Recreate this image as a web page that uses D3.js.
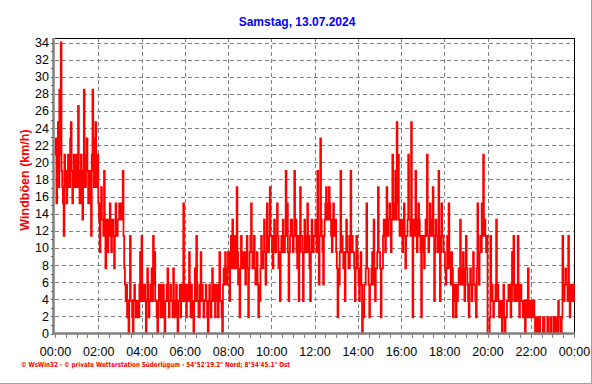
<!DOCTYPE html>
<html><head><meta charset="utf-8">
<script src="https://cdn.jsdelivr.net/npm/d3@7/dist/d3.min.js"></script>
<style>html,body{margin:0;padding:0;background:#fff;}svg{display:block;}</style>
</head><body>
<svg id="c" width="592" height="384"></svg>
<script>
// ---- data (wind gusts, km/h, one value every 2 minutes, per hour) ----
const title = "Samstag, 13.07.2024";
const yLabel = "Windböen (km/h)";
const footer = "\u00a9 WsWin32  -  \u00a9 private Wetterstation Süderlügum  -  54°52'19.2\" Nord; 8°54'45.1\" Ost";
const xTickLabels = ["00:00","02:00","04:00","06:00","08:00","10:00","12:00","14:00","16:00","18:00","20:00","22:00","00:00"];
const yTicks = [0,2,4,6,8,10,12,14,16,18,20,22,24,26,28,30,32,34];
const stepMinutes = 2;
const h00 = [20.9,22.8,15.2,19.0,24.7,17.1,28.5,20.9,34,19.0,17.1,15.2,11.4,20.9,19.0,17.1,15.2,19.0,20.9,17.1,17.1,22.8,24.7,19.0,15.2,17.1,20.9,19.0,17.1,20.9];
const h01 = [19.0,17.1,26.6,19.0,15.2,17.1,20.9,15.2,13.3,19.0,28.5,17.1,17.1,20.9,22.8,19.0,15.2,17.1,19.0,15.2,11.4,20.9,28.5,19.0,17.1,22.8,24.7,17.1,19.0,20.9];
const h02 = [15.2,13.3,9.5,15.2,17.1,13.3,13.3,11.4,19.0,11.4,7.6,13.3,13.3,9.5,11.4,13.3,15.2,11.4,9.5,13.3,13.3,11.4,7.6,11.4,15.2,13.3,11.4,13.3,13.3,15.2];
const h03 = [13.3,15.2,15.2,13.3,19.0,11.4,7.6,5.7,3.8,5.7,1.9,3.8,0,3.8,11.4,3.8,3.8,1.9,0,3.8,5.7,3.8,1.9,3.8,3.8,1.9,1.9,5.7,9.5,3.8];
const h04 = [11.4,5.7,3.8,5.7,5.7,3.8,0,3.8,7.6,5.7,1.9,3.8,3.8,5.7,7.6,3.8,11.4,5.7,9.5,3.8,3.8,1.9,0,3.8,5.7,3.8,1.9,5.7,3.8,1.9];
const h05 = [5.7,3.8,0,3.8,3.8,5.7,7.6,3.8,1.9,3.8,5.7,3.8,3.8,1.9,7.6,3.8,1.9,3.8,5.7,1.9,0,3.8,3.8,5.7,1.9,3.8,5.7,3.8,15.2,3.8];
const h06 = [3.8,5.7,1.9,3.8,5.7,3.8,9.5,3.8,1.9,5.7,3.8,1.9,0,3.8,7.6,3.8,11.4,5.7,3.8,1.9,1.9,5.7,9.5,3.8,5.7,3.8,1.9,3.8,3.8,5.7];
const h07 = [3.8,1.9,0,3.8,5.7,3.8,1.9,3.8,7.6,3.8,3.8,5.7,1.9,3.8,5.7,3.8,1.9,5.7,9.5,3.8,3.8,1.9,0,5.7,7.6,5.7,9.5,7.6,5.7,7.6];
const h08 = [9.5,7.6,3.8,9.5,11.4,7.6,13.3,9.5,7.6,11.4,9.5,7.6,17.1,9.5,5.7,7.6,1.9,7.6,11.4,7.6,7.6,9.5,9.5,7.6,5.7,9.5,11.4,7.6,1.9,7.6];
const h09 = [9.5,11.4,15.2,9.5,7.6,9.5,11.4,7.6,5.7,7.6,9.5,5.7,1.9,5.7,3.8,7.6,11.4,9.5,7.6,9.5,13.3,9.5,5.7,9.5,15.2,11.4,9.5,11.4,17.1,11.4];
const h10 = [11.4,9.5,7.6,11.4,13.3,9.5,9.5,11.4,15.2,11.4,7.6,9.5,3.8,9.5,11.4,9.5,13.3,11.4,9.5,11.4,19.0,11.4,15.2,9.5,3.8,9.5,11.4,13.3,13.3,11.4];
const h11 = [9.5,11.4,19.0,11.4,13.3,9.5,7.6,11.4,3.8,9.5,17.1,11.4,11.4,9.5,3.8,9.5,13.3,11.4,9.5,11.4,15.2,9.5,11.4,7.6,3.8,9.5,13.3,11.4,9.5,11.4];
const h12 = [11.4,13.3,13.3,9.5,19.0,11.4,5.7,11.4,22.8,13.3,11.4,9.5,5.7,11.4,13.3,15.2,17.1,13.3,15.2,13.3,17.1,15.2,13.3,11.4,9.5,13.3,15.2,11.4,11.4,13.3];
const h13 = [9.5,7.6,1.9,7.6,5.7,9.5,19.0,9.5,11.4,9.5,7.6,9.5,3.8,9.5,13.3,11.4,9.5,7.6,7.6,11.4,19.0,9.5,11.4,9.5,9.5,7.6,3.8,7.6,11.4,9.5];
const h14 = [7.6,5.7,3.8,7.6,9.5,5.7,0,3.8,1.9,5.7,5.7,7.6,15.2,7.6,7.6,5.7,1.9,5.7,5.7,7.6,9.5,5.7,13.3,7.6,3.8,7.6,7.6,9.5,17.1,9.5];
const h15 = [9.5,7.6,1.9,7.6,7.6,11.4,13.3,11.4,9.5,13.3,17.1,11.4,11.4,13.3,15.2,13.3,9.5,13.3,20.9,13.3,13.3,15.2,19.0,13.3,24.7,15.2,20.9,13.3,11.4,13.3];
const h16 = [13.3,11.4,9.5,13.3,15.2,11.4,7.6,11.4,11.4,13.3,20.9,13.3,13.3,11.4,24.7,13.3,1.9,11.4,13.3,11.4,19.0,13.3,9.5,11.4,15.2,13.3,11.4,9.5,1.9,11.4];
const h17 = [11.4,9.5,7.6,11.4,13.3,11.4,20.9,11.4,9.5,11.4,15.2,11.4,11.4,13.3,17.1,11.4,3.8,9.5,13.3,11.4,11.4,9.5,19.0,11.4,3.8,9.5,15.2,11.4,11.4,9.5];
const h18 = [9.5,7.6,5.7,7.6,11.4,7.6,15.2,9.5,7.6,5.7,9.5,7.6,1.9,5.7,5.7,3.8,1.9,5.7,3.8,5.7,7.6,5.7,13.3,7.6,5.7,7.6,9.5,5.7,3.8,7.6];
const h19 = [11.4,7.6,5.7,3.8,1.9,5.7,7.6,5.7,3.8,5.7,9.5,5.7,5.7,3.8,1.9,7.6,15.2,9.5,5.7,9.5,11.4,9.5,15.2,11.4,20.9,11.4,13.3,11.4,9.5,11.4];
const h20 = [0,0,0,1.9,11.4,3.8,5.7,3.8,1.9,3.8,3.8,5.7,13.3,3.8,5.7,3.8,1.9,3.8,3.8,1.9,0,3.8,5.7,1.9,0,1.9,1.9,3.8,3.8,5.7];
const h21 = [3.8,5.7,1.9,3.8,9.5,5.7,11.4,3.8,3.8,5.7,5.7,3.8,11.4,5.7,1.9,3.8,5.7,3.8,3.8,1.9,1.9,3.8,0,3.8,3.8,1.9,7.6,3.8,1.9,3.8];
const h22 = [3.8,1.9,1.9,3.8,3.8,1.9,0,1.9,1.9,0,0,1.9,1.9,0,0,0,0,1.9,1.9,0,0,0,0,1.9,1.9,0,0,0,1.9,0];
const h23 = [0,0,1.9,0,0,1.9,1.9,0,3.8,1.9,1.9,0,0,1.9,11.4,5.7,3.8,5.7,7.6,5.7,5.7,3.8,11.4,5.7,1.9,3.8,5.7,3.8,3.8,5.7];
const lastValue = 3.8;

// ---- build ----
const hours = [h00,h01,h02,h03,h04,h05,h06,h07,h08,h09,h10,h11,h12,h13,h14,h15,h16,h17,h18,h19,h20,h21,h22,h23];
const values = hours.flat().concat([lastValue]);
const data = values.map((v,i)=>({t:new Date(Date.UTC(2024,6,13,0,i*stepMinutes)), v}));

const svg = d3.select("#c");
const L = 55, R = 574, T = 38, B = 333.5;
const x = d3.scaleUtc().domain([new Date(Date.UTC(2024,6,13)), new Date(Date.UTC(2024,6,14))]).range([L, R]);
const y = d3.scaleLinear().domain([0,34]).range([B, 42.5]);

// outer shadow border
svg.append("line").attr("x1",591.5).attr("x2",591.5).attr("y1",0).attr("y2",384).attr("stroke","#a0a0a0").attr("stroke-width",1);
svg.append("line").attr("x1",0).attr("x2",592).attr("y1",383.5).attr("y2",383.5).attr("stroke","#a0a0a0").attr("stroke-width",1);

// grid
const gridColor = "#808080";
const g = svg.append("g").attr("shape-rendering","crispEdges");
g.selectAll("line.hg").data(yTicks.filter(d=>d>0)).join("line")
  .attr("x1",L).attr("x2",R).attr("y1",d=>Math.round(y(d))+0.5).attr("y2",d=>Math.round(y(d))+0.5)
  .attr("stroke",gridColor).attr("stroke-dasharray","4,3");
const xTickDates = d3.range(0,25,2).map(h=>new Date(Date.UTC(2024,6,13,h)));
g.selectAll("line.vg").data(xTickDates.slice(1,-1)).join("line")
  .attr("x1",d=>Math.round(x(d))+0.5).attr("x2",d=>Math.round(x(d))+0.5).attr("y1",T).attr("y2",B)
  .attr("stroke",gridColor).attr("stroke-dasharray","4,3");

// series
const line = d3.line().x(d=>x(d.t)).y(d=>y(d.v)).curve(d3.curveStepAfter);
svg.append("path").datum(data).attr("d",line).attr("fill","none").attr("stroke","#ff0000")
  .attr("stroke-width",1.8).attr("stroke-linejoin","miter");

// frame: top and right black
g.append("line").attr("x1",L).attr("x2",R+0.5).attr("y1",T+0.5).attr("y2",T+0.5).attr("stroke","#000").attr("stroke-width",1.5);
g.append("line").attr("x1",R+0.5).attr("x2",R+0.5).attr("y1",T).attr("y2",B).attr("stroke","#000").attr("stroke-width",1.5);

// x axis
const xAxis = d3.axisBottom(x).tickValues(xTickDates).tickFormat((d,i)=>xTickLabels[i]).tickSize(0).tickPadding(14);
const gx = svg.append("g").attr("transform",`translate(0,${B})`).call(xAxis);
gx.select(".domain").remove();
gx.selectAll("text").attr("font-family","Arial, 'Liberation Sans', sans-serif").attr("font-size","12.5px").attr("fill","#000");
const minorTicks = d3.range(0,24.01,0.5).map(h=>new Date(Date.UTC(2024,6,13,0,h*60)));
svg.append("g").attr("shape-rendering","crispEdges").selectAll("line").data(minorTicks).join("line")
  .attr("x1",d=>Math.round(x(d))+0.5).attr("x2",d=>Math.round(x(d))+0.5).attr("y1",B).attr("y2",B+4)
  .attr("stroke",gridColor);
svg.append("line").attr("x1",L-2).attr("x2",R+1).attr("y1",B).attr("y2",B).attr("stroke",gridColor).attr("stroke-width",2.5);

// y axis
const yAxis = d3.axisLeft(y).tickValues(yTicks).tickSize(0).tickPadding(5);
const gy = svg.append("g").attr("transform",`translate(${L-1},0)`).call(yAxis);
gy.select(".domain").remove();
gy.selectAll("text").attr("font-family","Arial, 'Liberation Sans', sans-serif").attr("font-size","12.5px").attr("fill","#000");
svg.append("line").attr("x1",L-1.5).attr("x2",L-1.5).attr("y1",T).attr("y2",B+1).attr("stroke",gridColor).attr("stroke-width",2.5);
svg.append("g").attr("shape-rendering","crispEdges").selectAll("line").data(d3.range(0,34.5,1)).join("line")
  .attr("x1",L-4).attr("x2",L-2).attr("y1",d=>Math.round(y(d))+0.5).attr("y2",d=>Math.round(y(d))+0.5).attr("stroke","#606060");

// title
svg.append("text").attr("x",297).attr("y",26).attr("text-anchor","middle")
  .attr("font-family","Arial, 'Liberation Sans', sans-serif").attr("font-size","12px").attr("font-weight","bold")
  .attr("fill","#0000ff").text(title);

// y label
svg.append("text").attr("transform","translate(29,180) rotate(-90)").attr("text-anchor","middle")
  .attr("font-family","Arial, 'Liberation Sans', sans-serif").attr("font-size","12.5px").attr("font-weight","bold")
  .attr("fill","#ff0000").text(yLabel);

// footer
svg.append("text").attr("x",21).attr("y",366.5)
  .attr("font-family","'DejaVu Sans', sans-serif").attr("font-size","7px").attr("font-weight","bold")
  .attr("fill","#ff0000").attr("textLength",269).attr("lengthAdjust","spacingAndGlyphs").text(footer);
</script>
</body></html>
